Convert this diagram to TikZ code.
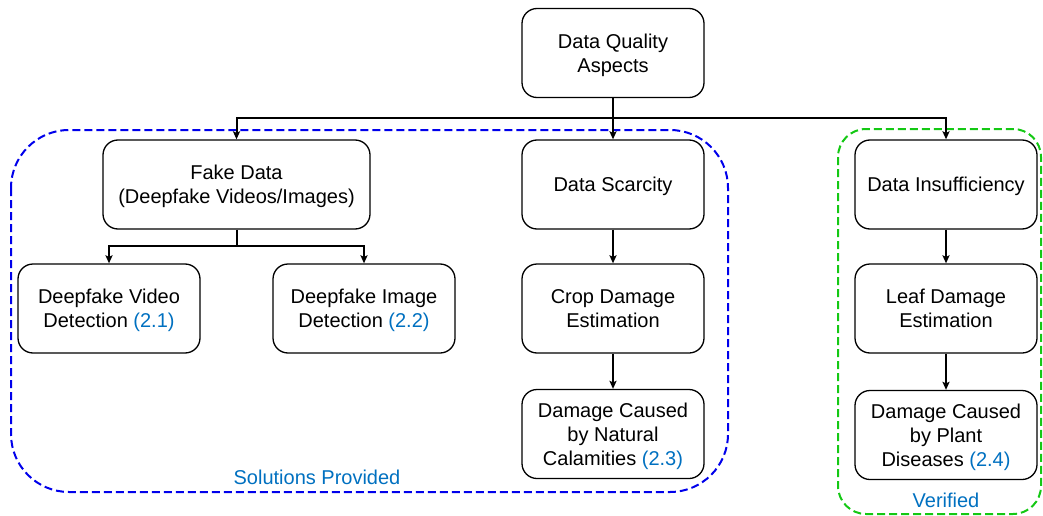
\documentclass[tikz,border=0pt]{standalone}
\usepackage{fontspec}
\setmainfont{Liberation Sans}
\usetikzlibrary{arrows.meta}
\definecolor{lblue}{RGB}{0,112,192}
\definecolor{gbox}{RGB}{20,200,20}
\definecolor{bbox}{RGB}{0,0,235}
\tikzset{
  box/.style={draw=black, line width=1.3pt, rounded corners=15pt, minimum width=182pt, minimum height=89pt, align=center, font=\fontsize{20pt}{24pt}\selectfont, inner sep=2pt, text depth=0pt},
  arr/.style={line width=2pt, -{Stealth[length=8pt,width=7pt,inset=1.5pt]}},
  ln/.style={line width=2pt},
  grp/.style={line width=2pt, dash pattern=on 8pt off 4pt},
  grplabel/.style={font=\fontsize{20pt}{24pt}\selectfont, text=lblue}
}
\begin{document}
\begin{tikzpicture}[x=1pt,y=-1pt]
\useasboundingbox (0,0) rectangle (1043,516);
% groups
\draw[grp, bbox, rounded corners=58pt] (11,130) rectangle (728,492);
\draw[grp, gbox, rounded corners=28pt] (838,129) rectangle (1041,514);
\node[grplabel] (sol) at (317,477) {Solutions Provided};
\node[grplabel] (ver) at (946,500) {Verified};
% nodes
\node[box] (top) at (613,53) {Data Quality\\Aspects};
\node[box, minimum width=267pt] (fake) at (236.5,184.5) {Fake Data\\(Deepfake Videos/Images)};
\node[box] (scar) at (613,184.5) {Data Scarcity};
\node[box] (insuf) at (946,184.5) {Data Insufficiency};
\node[box] (vid) at (109,308.5) {Deepfake Video\\Detection \textcolor{lblue}{(2.1)}};
\node[box] (img) at (364,308.5) {Deepfake Image\\Detection \textcolor{lblue}{(2.2)}};
\node[box] (crop) at (613,308.5) {Crop Damage\\Estimation};
\node[box] (leaf) at (946,308.5) {Leaf Damage\\Estimation};
\node[box] (nat) at (613,434) {Damage Caused\\by Natural\\Calamities \textcolor{lblue}{(2.3)}};
\node[box] (plant) at (946,435) {Damage Caused\\by Plant\\Diseases \textcolor{lblue}{(2.4)}};
% connectors
\coordinate (bus) at (613,118);
\draw[ln] (top.south) -- (bus);
\draw[arr] (bus) -| (fake.north);
\draw[arr] (bus) -| (insuf.north);
\draw[arr] (bus) -- (scar.north);
\coordinate (fb) at (236.5,246);
\draw[ln] (fake.south) -- (fb);
\draw[arr] (fb) -| (vid.north);
\draw[arr] (fb) -| (img.north);
\draw[arr] (scar.south) -- (crop.north);
\draw[arr] (crop.south) -- (nat.north);
\draw[arr] (insuf.south) -- (leaf.north);
\draw[arr] (leaf.south) -- (plant.north);
\end{tikzpicture}
\end{document}
